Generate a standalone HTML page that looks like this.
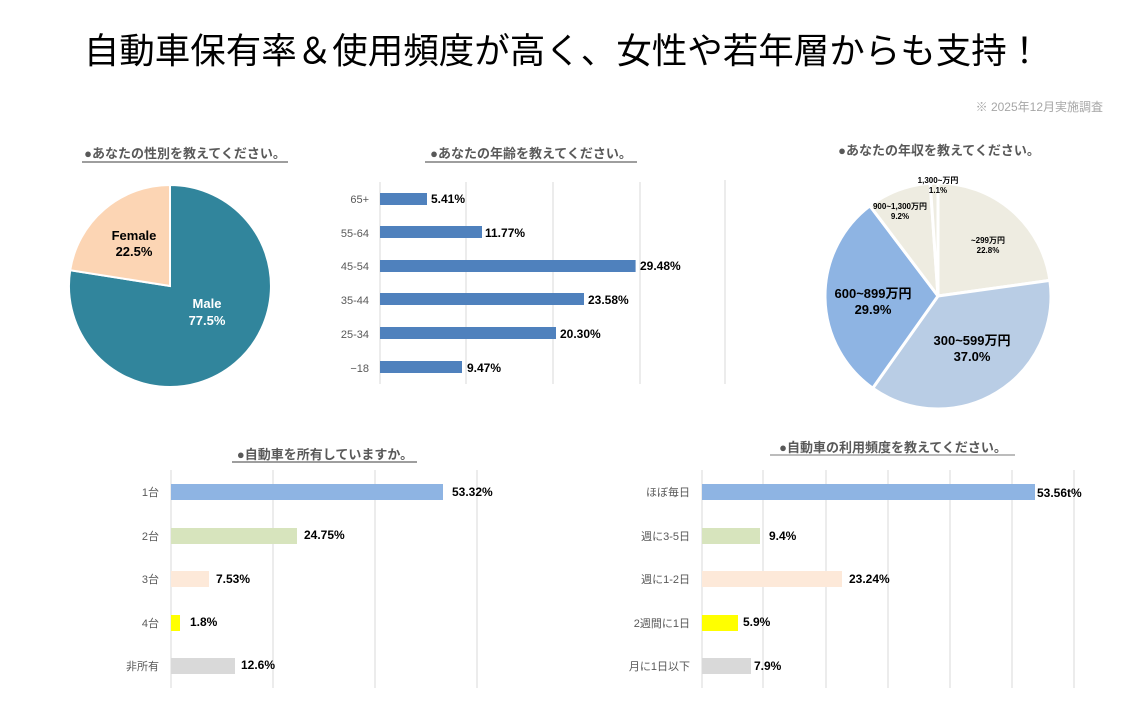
<!DOCTYPE html>
<html><head><meta charset="utf-8"><style>
body{margin:0;background:#fff;width:1137px;height:717px;overflow:hidden}
svg{display:block;font-family:"Liberation Sans","Noto Sans CJK JP",sans-serif}
.t{font-size:13px;font-weight:bold;fill:#595959}
.ax{font-size:11px;fill:#595959}
.v{font-size:12px;font-weight:bold;fill:#000}
</style></head><body>
<svg width="1137" height="717" viewBox="0 0 1137 717">
<text x="563" y="63" text-anchor="middle" font-size="35.5" fill="#000">自動車保有率＆使用頻度が高く、女性や若年層からも支持！</text>
<text x="1103" y="111" text-anchor="end" font-size="12" fill="#a6a6a6">※ 2025年12月実施調査</text>

<!-- gender -->
<text x="185" y="158" text-anchor="middle" class="t">●あなたの性別を教えてください。</text>
<line x1="82" y1="162" x2="288" y2="162" stroke="#7f7f7f" stroke-width="1.5"/>
<path d="M170,286 L170,185 A101,101 0 1 1 70.2,270.2 Z" fill="#31859c" stroke="#fff" stroke-width="2"/>
<path d="M170,286 L70.2,270.2 A101,101 0 0 1 170,185 Z" fill="#fcd5b4" stroke="#fff" stroke-width="2"/>
<text x="134" y="240" text-anchor="middle" font-size="13" font-weight="bold" fill="#000">Female</text>
<text x="134" y="256" text-anchor="middle" font-size="13" font-weight="bold" fill="#000">22.5%</text>
<text x="207" y="308" text-anchor="middle" font-size="13" font-weight="bold" fill="#fff">Male</text>
<text x="207" y="325" text-anchor="middle" font-size="13" font-weight="bold" fill="#fff">77.5%</text>

<!-- age -->
<text x="531" y="158" text-anchor="middle" class="t">●あなたの年齢を教えてください。</text>
<line x1="425" y1="162" x2="637" y2="162" stroke="#7f7f7f" stroke-width="1.5"/>
<g stroke="#d9d9d9" stroke-width="1">
<line x1="380" y1="182" x2="380" y2="384"/><line x1="466" y1="182" x2="466" y2="384"/>
<line x1="553" y1="182" x2="553" y2="384"/><line x1="640" y1="182" x2="640" y2="384"/>
<line x1="725" y1="180" x2="725" y2="384"/>
</g>
<g fill="#4f81bd">
<rect x="380" y="193" width="47" height="12"/>
<rect x="380" y="226" width="102" height="12"/>
<rect x="380" y="260" width="255.6" height="12"/>
<rect x="380" y="293" width="204" height="12"/>
<rect x="380" y="327" width="176" height="12"/>
<rect x="380" y="361" width="82" height="12"/>
</g>
<g class="ax" text-anchor="end">
<text x="369" y="203">65+</text><text x="369" y="237">55-64</text><text x="369" y="270">45-54</text>
<text x="369" y="304">35-44</text><text x="369" y="338">25-34</text><text x="369" y="372">−18</text>
</g>
<g class="v">
<text x="431" y="203">5.41%</text><text x="485" y="237">11.77%</text><text x="640" y="270">29.48%</text>
<text x="588" y="304">23.58%</text><text x="560" y="338">20.30%</text><text x="467" y="372">9.47%</text>
</g>

<!-- income -->
<text x="939" y="155" text-anchor="middle" class="t">●あなたの年収を教えてください。</text>
<g stroke="#fff" stroke-width="3" stroke-linejoin="round">
<path d="M938,296 L938,183 A113,113 0 0 1 1049.9,280.4 Z" fill="#eeece1"/>
<path d="M938,296 L1049.9,280.4 A113,113 0 0 1 872.7,388.2 Z" fill="#b9cde5"/>
<path d="M938,296 L872.7,388.2 A113,113 0 0 1 869.9,205.8 Z" fill="#8eb4e3"/>
<path d="M938,296 L869.9,205.8 A113,113 0 0 1 930.2,183.3 Z" fill="#eeece1"/>
<path d="M938,296 L930.2,183.3 A113,113 0 0 1 938,183 Z" fill="#eeece1"/>
</g>
<g font-weight="bold" fill="#000" text-anchor="middle">
<text x="938" y="183" font-size="8">1,300~万円</text><text x="938" y="193" font-size="8">1.1%</text>
<text x="900" y="209" font-size="8">900~1,300万円</text><text x="900" y="219" font-size="8">9.2%</text>
<text x="988" y="243" font-size="8">~299万円</text><text x="988" y="253" font-size="8">22.8%</text>
<text x="873" y="298" font-size="13">600~899万円</text><text x="873" y="314" font-size="13">29.9%</text>
<text x="972" y="345" font-size="13">300~599万円</text><text x="972" y="361" font-size="13">37.0%</text>
</g>

<!-- owner -->
<text x="325" y="459" text-anchor="middle" class="t">●自動車を所有していますか。</text>
<line x1="232" y1="462" x2="417" y2="462" stroke="#7f7f7f" stroke-width="1.5"/>
<g stroke="#d9d9d9">
<line x1="171" y1="470" x2="171" y2="688"/><line x1="273" y1="470" x2="273" y2="688"/>
<line x1="375" y1="470" x2="375" y2="688"/><line x1="477" y1="470" x2="477" y2="688"/>
</g>
<rect x="171" y="484" width="272" height="16" fill="#8eb4e3"/>
<rect x="171" y="528" width="126" height="16" fill="#d7e4bd"/>
<rect x="171" y="571" width="38" height="16" fill="#fde9d9"/>
<rect x="171" y="615" width="9" height="16" fill="#ffff00"/>
<rect x="171" y="658" width="64" height="16" fill="#d9d9d9"/>
<g class="ax" text-anchor="end">
<text x="159" y="496">1台</text><text x="159" y="540">2台</text><text x="159" y="583">3台</text>
<text x="159" y="627">4台</text><text x="159" y="670">非所有</text>
</g>
<g class="v">
<text x="452" y="496">53.32%</text><text x="304" y="539">24.75%</text><text x="216" y="583">7.53%</text>
<text x="190" y="626">1.8%</text><text x="241" y="669">12.6%</text>
</g>

<!-- frequency -->
<text x="893" y="452" text-anchor="middle" class="t">●自動車の利用頻度を教えてください。</text>
<line x1="770" y1="455" x2="1015" y2="455" stroke="#a6a6a6" stroke-width="1.5"/>
<g stroke="#d9d9d9">
<line x1="702" y1="470" x2="702" y2="688"/><line x1="763" y1="470" x2="763" y2="688"/>
<line x1="826" y1="470" x2="826" y2="688"/><line x1="888" y1="470" x2="888" y2="688"/>
<line x1="950" y1="470" x2="950" y2="688"/><line x1="1012" y1="470" x2="1012" y2="688"/>
<line x1="1074" y1="470" x2="1074" y2="688"/>
</g>
<rect x="702" y="484" width="333" height="16" fill="#8eb4e3"/>
<rect x="702" y="528" width="58" height="16" fill="#d7e4bd"/>
<rect x="702" y="571" width="140" height="16" fill="#fde9d9"/>
<rect x="702" y="615" width="36" height="16" fill="#ffff00"/>
<rect x="702" y="658" width="49" height="16" fill="#d9d9d9"/>
<g class="ax" text-anchor="end">
<text x="690" y="496">ほぼ毎日</text><text x="690" y="540">週に3-5日</text><text x="690" y="583">週に1-2日</text>
<text x="690" y="627">2週間に1日</text><text x="690" y="670">月に1日以下</text>
</g>
<g class="v">
<text x="1037" y="497">53.56t%</text><text x="769" y="540">9.4%</text><text x="849" y="583">23.24%</text>
<text x="743" y="626">5.9%</text><text x="754" y="670">7.9%</text>
</g>
</svg>
</body></html>
